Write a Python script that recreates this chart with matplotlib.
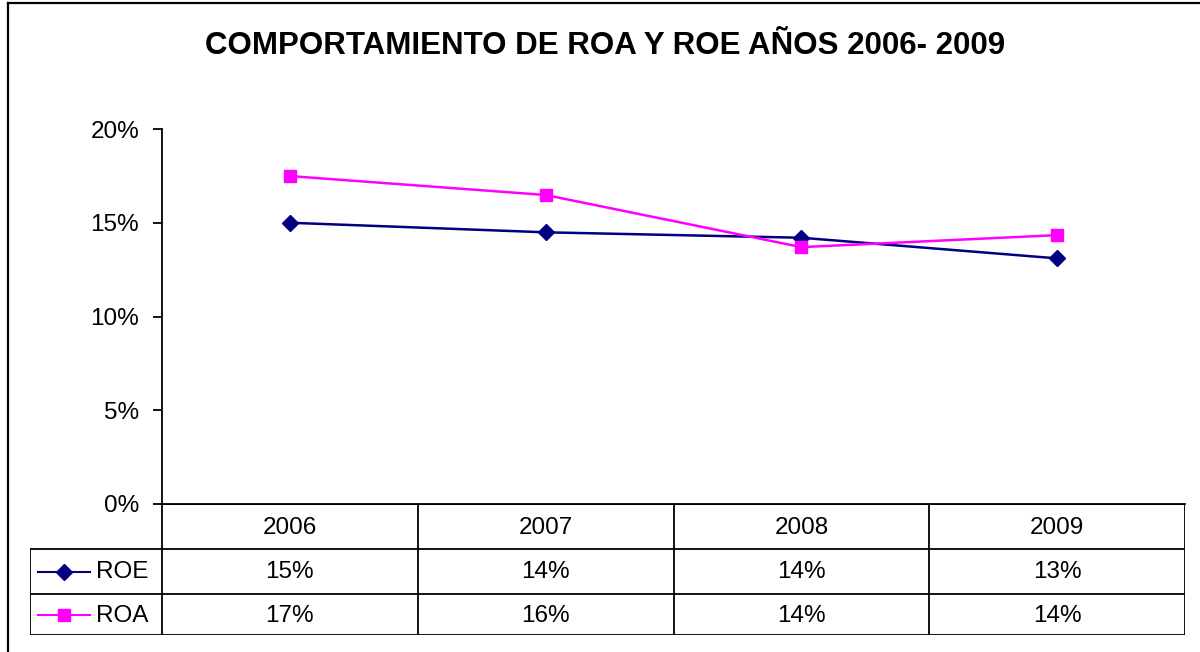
import matplotlib
matplotlib.use("Agg")
import matplotlib.pyplot as plt
from matplotlib.lines import Line2D

plt.rcParams['font.family'] = ['Liberation Sans', 'DejaVu Sans']

# ---- data ----
years = ["2006", "2007", "2008", "2009"]
roe = [0.150, 0.1449, 0.142, 0.131]
roa = [0.1749, 0.1648, 0.137, 0.1434]
series_names = ["ROE", "ROA"]
title = "COMPORTAMIENTO DE ROA Y ROE AÑOS 2006- 2009"
yticks = [0.0, 0.05, 0.10, 0.15, 0.20]

ROE_C = "#000080"
ROA_C = "#FF00FF"
FS = 17.5

W, H = 1200, 652
fig = plt.figure(figsize=(W / 100, H / 100), dpi=100)

def fx(px):
    return px / W

def fy(py):
    return 1 - py / H

# outer border (chart area)
fig.add_artist(Line2D([fx(8), fx(8)], [fy(3), fy(660)], color="black", lw=1.6,
                      transform=fig.transFigure))
fig.add_artist(Line2D([fx(8), fx(1210)], [fy(3), fy(3)], color="black", lw=1.6,
                      transform=fig.transFigure))

# plot area
L, R, T, B = 162, 1185, 129, 504
ax = fig.add_axes([fx(L), fy(B), fx(R - L), (B - T) / H])
x = list(range(len(years)))
ax.plot(x, roe, color=ROE_C, lw=1.8, marker="D", ms=8.5, mec=ROE_C, mfc=ROE_C, zorder=3)
ax.plot(x, roa, color=ROA_C, lw=1.8, marker="s", ms=8.5, mec=ROA_C, mfc=ROA_C, zorder=3)
ax.set_xlim(-0.5, len(years) - 0.5)
ax.set_ylim(0, 0.20)
ax.set_yticks(yticks)
ax.set_yticklabels([f"{v*100:.0f}%" for v in yticks], fontsize=FS)
ax.set_xticks([])
for s in ["top", "right"]:
    ax.spines[s].set_visible(False)
ax.spines["left"].set_linewidth(1.3)
ax.spines["bottom"].set_linewidth(1.3)
ax.tick_params(axis="y", direction="out", length=6.5, width=1.3, pad=10)
ax.patch.set_alpha(0)

# title
fig.text(fx(605), fy(46), title, ha="center", va="center", fontsize=22.5,
         fontweight="bold")

# ---- data table ----
colw = (R - L) / len(years)
TL = 30
tab = fig.add_axes([fx(TL), fy(635), fx(R - TL), 131 / H])
tab.set_xlim(-0.5 - (L - TL) / colw, len(years) - 0.5)
tab.set_ylim(131, 0)
tab.axis("off")
rows = [0, 45, 90, 131]
lw = 1.3
xl = -0.5 - (L - TL) / colw
xr = len(years) - 0.5
# horizontal lines
tab.plot([-0.5, xr], [rows[0], rows[0]], color="black", lw=lw, solid_capstyle="projecting")
for r in rows[1:]:
    tab.plot([xl, xr], [r, r], color="black", lw=lw, solid_capstyle="projecting")
# vertical lines
for i in range(len(years) + 1):
    tab.plot([i - 0.5, i - 0.5], [rows[0], rows[-1]], color="black", lw=lw,
             solid_capstyle="projecting")
tab.plot([xl, xl], [rows[1], rows[-1]], color="black", lw=lw, solid_capstyle="projecting")

for i, yr in enumerate(years):
    tab.text(i, (rows[0] + rows[1]) / 2 + 1, yr, ha="center", va="center", fontsize=FS)
for j, (vals, name, col, mk, ms) in enumerate(
        [(roe, series_names[0], ROE_C, "D", 8), (roa, series_names[1], ROA_C, "s", 8.5)]):
    yc = (rows[j + 1] + rows[j + 2]) / 2 + 1
    for i, v in enumerate(vals):
        tab.text(i, yc, f"{round(v * 100):.0f}%", ha="center", va="center", fontsize=FS)
    x0 = xl + (38 - TL) / colw
    x1 = xl + (90 - TL) / colw
    xm = xl + (64 - TL) / colw
    tab.plot([x0, x1], [yc - 1, yc - 1], color=col, lw=1.5)
    tab.plot([xm], [yc - 1], marker=mk, ms=ms, color=col, mec=col)
    tab.text(xl + (96 - TL) / colw, yc, name, ha="left", va="center", fontsize=FS)

fig.savefig("out.png", dpi=100)
